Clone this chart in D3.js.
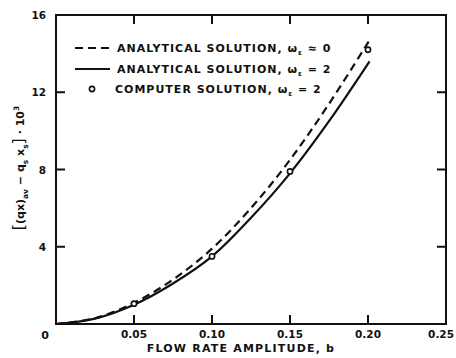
<!DOCTYPE html>
<html>
<head>
<meta charset="utf-8">
<script src="https://cdn.jsdelivr.net/npm/d3@7"></script>
<style>
body{margin:0;background:#fff;}
svg text{font-family:"DejaVu Sans",sans-serif;font-weight:bold;fill:#111;}
</style>
</head>
<body>
<svg id="chart"></svg>
<script>
// values
const bVals      = [0, 0.025, 0.05, 0.075, 0.10, 0.125, 0.15, 0.175, 0.201]
const dashedVals = [0, 0.3, 1.1, 2.3, 3.9, 6.0, 8.5, 11.4, 14.7]   // omega ~ 0
const solidVals  = [0, 0.28, 1.0, 2.1, 3.5, 5.5, 7.8, 10.5, 13.6]  // omega = 2
const compB      = [0.05, 0.10, 0.15, 0.20]
const compVals   = [1.05, 3.5, 7.9, 14.2]
const xTicks     = [0.05, 0.10, 0.15, 0.20, 0.25]
const xTickLbl   = ['0.05', '0.10', '0.15', '0.20', '0.25']
const yTicks     = [4, 8, 12, 16]

const W = 456, H = 358
const svg = d3.select('#chart').attr('width', W).attr('height', H)

const x = d3.scaleLinear().domain([0, 0.25]).range([56, 446])
const y = d3.scaleLinear().domain([0, 16]).range([324, 15])

//frame
svg.append('rect')
    .attr('x', x(0)).attr('y', y(16))
    .attr('width', x(0.25) - x(0)).attr('height', y(0) - y(16))
    .attr('fill', 'none').attr('stroke', '#111').attr('stroke-width', 2)

// inner ticks on all four sides
const tk = 9
svg.selectAll('.xb').data(xTicks.slice(0, 4)).join('line')
    .attr('x1', d => x(d)).attr('x2', d => x(d))
    .attr('y1', y(0)).attr('y2', y(0) - tk)
    .attr('stroke', '#111').attr('stroke-width', 2)
svg.selectAll('.xt').data(xTicks.slice(0, 4)).join('line')
    .attr('x1', d => x(d)).attr('x2', d => x(d))
    .attr('y1', y(16)).attr('y2', y(16) + tk)
    .attr('stroke', '#111').attr('stroke-width', 2)
svg.selectAll('.yl').data(yTicks.slice(0, 3)).join('line')
    .attr('x1', x(0)).attr('x2', x(0) + tk)
    .attr('y1', d => y(d)).attr('y2', d => y(d))
    .attr('stroke', '#111').attr('stroke-width', 2)
svg.selectAll('.yr').data(yTicks.slice(0, 3)).join('line')
    .attr('x1', x(0.25)).attr('x2', x(0.25) - tk)
    .attr('y1', d => y(d)).attr('y2', d => y(d))
    .attr('stroke', '#111').attr('stroke-width', 2)

// tick labels (last one pulled in so it stays on the page)
svg.selectAll('.xlab').data(xTicks).join('text')
    .attr('x', d => d === 0.25 ? W - 2 : x(d)).attr('y', y(0) + 14)
    .attr('text-anchor', d => d === 0.25 ? 'end' : 'middle').attr('font-size', 10.5)
    .text((d, i) => xTickLbl[i])
svg.append('text').attr('x', 45).attr('y', y(0) + 15)
    .attr('text-anchor', 'middle').attr('font-size', 11).text('0')
svg.selectAll('.ylab').data(yTicks).join('text')
    .attr('x', 46).attr('y', d => y(d) + 4)
    .attr('text-anchor', 'end').attr('font-size', 10.5)
    .text(d => d)

// axis titles
svg.append('text').attr('x', 241).attr('y', 352)
    .attr('text-anchor', 'middle').attr('font-size', 11).attr('letter-spacing', 1.2)
    .text('FLOW RATE AMPLITUDE,  b')

const yt = svg.append('text')
    .attr('transform', 'translate(24,168) rotate(-90)')
    .attr('text-anchor', 'middle').attr('font-size', 11)
yt.append('tspan').attr('font-size', 16).attr('font-weight', 'normal').text('[')
yt.append('tspan').text('(qx)')
yt.append('tspan').attr('font-size', 7.5).attr('dy', 4).text('av')
yt.append('tspan').attr('dy', -4).text(' − q')
yt.append('tspan').attr('font-size', 7.5).attr('dy', 4).text('s')
yt.append('tspan').attr('dy', -4).text(' x')
yt.append('tspan').attr('font-size', 7.5).attr('dy', 4).text('s')
yt.append('tspan').attr('dy', -4).attr('font-size', 16).attr('font-weight', 'normal').text(']')
yt.append('tspan').text(' · 10')
yt.append('tspan').attr('font-size', 7.5).attr('dy', -5).text('3')

// curves
const line = d3.line().curve(d3.curveCatmullRom)
svg.append('path')
    .attr('d', line(bVals.map((b, i) => [x(b), y(dashedVals[i])])))
    .attr('fill', 'none').attr('stroke', '#111').attr('stroke-width', 2.2)
    .attr('stroke-dasharray', '8,5')
svg.append('path')
    .attr('d', line(bVals.map((b, i) => [x(b), y(solidVals[i])])))
    .attr('fill', 'none').attr('stroke', '#111').attr('stroke-width', 2.2)

svg.selectAll('.pt').data(compB).join('circle')
    .attr('cx', d => x(d)).attr('cy', (d, i) => y(compVals[i]))
    .attr('r', 2.6).attr('fill', '#fff').attr('stroke', '#111').attr('stroke-width', 1.6)

// legend
const leg = svg.append('g').attr('font-size', 11).attr('letter-spacing', 1)
const legRows = [
    {y: 48, kind: 'dash', txt: 'ANALYTICAL  SOLUTION,', val: ' ≈ 0'},
    {y: 69, kind: 'solid', txt: 'ANALYTICAL  SOLUTION,', val: ' = 2'},
    {y: 89, kind: 'dot', txt: 'COMPUTER  SOLUTION,', val: ' = 2'}
]
legRows.forEach(r => {
    if (r.kind === 'dot') {
        leg.append('circle').attr('cx', 92).attr('cy', r.y).attr('r', 2.6)
            .attr('fill', '#fff').attr('stroke', '#111').attr('stroke-width', 1.6)
    } else {
        leg.append('line').attr('x1', 75).attr('x2', 110).attr('y1', r.y).attr('y2', r.y)
            .attr('stroke', '#111').attr('stroke-width', 2.2)
            .attr('stroke-dasharray', r.kind === 'dash' ? '8,5' : null)
    }
    const t = leg.append('text').attr('x', r.kind === 'dot' ? 115 : 117).attr('y', r.y + 4)
    t.append('tspan').text(r.txt + ' ω')
    t.append('tspan').attr('font-size', 7).attr('dy', 3).text('ε')
    t.append('tspan').attr('dy', -3).text(r.val)
})
</script>
</body>
</html>
